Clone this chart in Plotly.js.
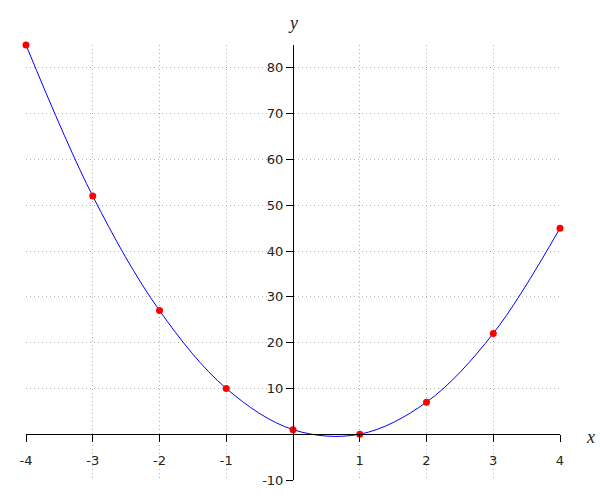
<!DOCTYPE html>
<html>
<head>
<meta charset="utf-8">
<script src="https://cdn.plot.ly/plotly-3.0.1.min.js"></script>
<style>html,body{margin:0;padding:0;background:#fff;}#chart{width:600px;height:500px;}</style>
</head>
<body>
<div id="chart"></div>
<script>
const xValues = [-4, -3, -2, -1, 0, 1, 2, 3, 4];
const yValues = [85, 52, 27, 10, 1, 0, 7, 22, 45];
const xTickVals = [-4, -3, -2, -1, 1, 2, 3, 4];
const xTickText = ["-4", "-3", "-2", "-1", "1", "2", "3", "4"];
const yTickVals = [-10, 10, 20, 30, 40, 50, 60, 70, 80];
const yTickText = ["-10", "10", "20", "30", "40", "50", "60", "70", "80"];
const xRange = [-4, 4];
const yRange = [-10, 85];

const trace = {
  x: xValues, y: yValues,
  mode: 'lines+markers',
  line: {color: '#0000ff', width: 1, shape: 'spline', smoothing: 1},
  marker: {color: '#ff0000', size: 7},
  cliponaxis: false,
  hoverinfo: 'skip',
  showlegend: false
};

const tickFont = {family: 'DejaVu Sans', size: 13, color: '#222'};
const gridStyle = {showgrid: true, gridcolor: '#b4b4b4', griddash: '1px,3px', gridwidth: 1};
const layout = {
  width: 600, height: 500,
  margin: {l: 26, r: 40, t: 45, b: 20, pad: 0},
  paper_bgcolor: '#fff', plot_bgcolor: '#fff',
  xaxis: Object.assign({
    range: xRange, anchor: 'free',
    position: (0 - yRange[0]) / (yRange[1] - yRange[0]),
    tickvals: xTickVals, ticktext: xTickText,
    ticks: 'outside', ticklen: 7, tickcolor: '#000', tickwidth: 1,
    showline: true, linecolor: '#000', linewidth: 1,
    zeroline: false, tickfont: tickFont, ticklabelstandoff: 7
  }, gridStyle),
  yaxis: Object.assign({
    range: yRange, anchor: 'free',
    position: (0 - xRange[0]) / (xRange[1] - xRange[0]),
    tickvals: yTickVals, ticktext: yTickText,
    ticks: 'outside', ticklen: 7, tickcolor: '#000', tickwidth: 1,
    showline: true, linecolor: '#000', linewidth: 1,
    zeroline: false, tickfont: tickFont
  }, gridStyle),
  annotations: [
    {text: 'y', xref: 'paper', yref: 'paper', x: 0.5, y: 1, yshift: 22, showarrow: false,
     font: {family: 'Liberation Serif', size: 18, color: '#222'}, xanchor: 'center', yanchor: 'middle'},
    {text: 'x', xref: 'paper', yref: 'paper', x: 1, xshift: 30, y: (0 - yRange[0]) / (yRange[1] - yRange[0]), yshift: -3, showarrow: false,
     font: {family: 'Liberation Serif', size: 18, color: '#222'}, xanchor: 'center', yanchor: 'middle'}
  ]
};
layout.annotations.forEach(a => a.text = '<i>' + a.text + '</i>');

Plotly.newPlot('chart', [trace], layout, {displayModeBar: false, staticPlot: true});
</script>
</body>
</html>
